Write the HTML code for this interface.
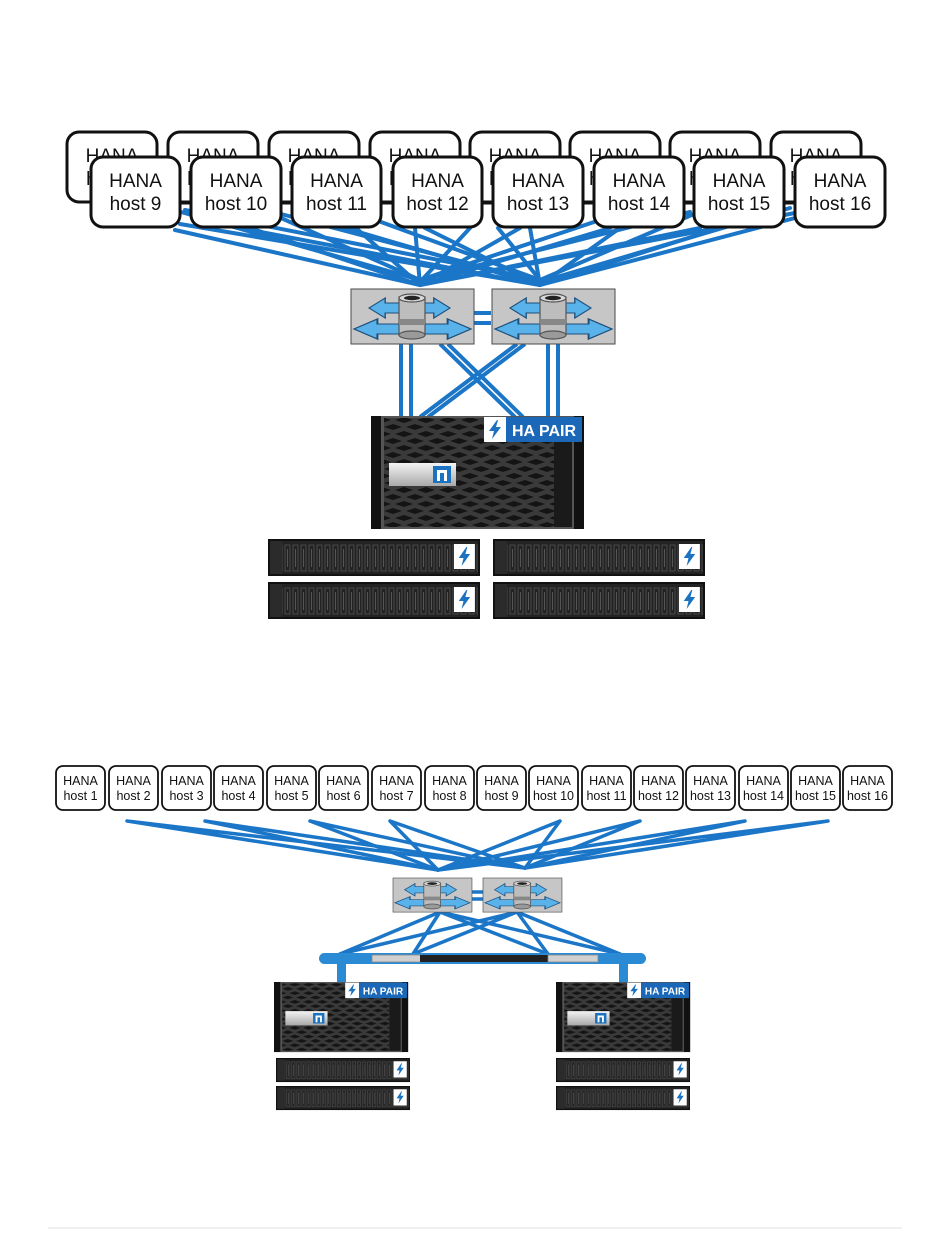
<!DOCTYPE html>
<html><head><meta charset="utf-8"><style>
html,body{margin:0;padding:0;background:#fff;}
svg{display:block;}
text{font-family:"Liberation Sans",Arial,sans-serif;}
</style></head><body>
<svg width="950" height="1248" viewBox="0 0 950 1248" xmlns="http://www.w3.org/2000/svg">
<defs>
 <pattern id="hex" x="0" y="0" width="22" height="14" patternUnits="userSpaceOnUse">
  <rect width="22" height="14" fill="#3a3a3a"/>
  <path d="M2 4 L11 1 L20 4 L11 7 Z" fill="#141414"/>
  <path d="M-9 11 L0 8 L9 11 L0 14 Z M13 11 L22 8 L31 11 L22 14 Z" fill="#141414"/>
 </pattern>
 <pattern id="drv" x="0" y="0" width="8" height="37" patternUnits="userSpaceOnUse">
  <rect width="8" height="37" fill="#232323"/>
  <rect x="1" y="6" width="5" height="26" fill="none" stroke="#4a4a4a" stroke-width="1"/>
  <line x1="3.5" y1="10" x2="3.5" y2="28" stroke="#555" stroke-width="1"/>
 </pattern>
 <linearGradient id="silver" x1="0" y1="0" x2="0" y2="1">
  <stop offset="0" stop-color="#f4f4f4"/><stop offset="1" stop-color="#a8a8a8"/>
 </linearGradient>
 <g id="dblarrow">
  <path d="M0 0 L12 -10 L12 -5 L48 -5 L48 -10 L60 0 L48 10 L48 5 L12 5 L12 10 Z" fill="#5ab2ea" stroke="#1d4f7a" stroke-width="1"/>
 </g>
 <g id="switch">
  <rect x="0" y="0" width="123" height="55" fill="#c6c6c6" stroke="#4a4a4a" stroke-width="1"/>
  <use href="#dblarrow" transform="translate(18,19) scale(1.35,1)"/>
  <use href="#dblarrow" transform="translate(3,40) scale(1.95,1)"/>
  <rect x="48" y="8" width="26" height="38" fill="#bdbdbd" stroke="#555" stroke-width="1.2"/>
  <rect x="48" y="30" width="26" height="6" fill="#888"/>
  <ellipse cx="61" cy="9" rx="13" ry="4" fill="#d8d8d8" stroke="#555" stroke-width="1.2"/>
  <ellipse cx="61" cy="9" rx="8" ry="2.2" fill="#222"/>
  <ellipse cx="61" cy="46" rx="13" ry="4" fill="#9a9a9a" stroke="#555" stroke-width="1.2"/>
 </g>
 <g id="bolt">
  <rect x="0" y="0" width="22" height="25" fill="#fff"/>
  <path d="M13 3 L5 14 L10 14 L8 22 L17 10 L12 10 L14 3 Z" fill="#1b72c0"/>
 </g>
 <g id="ctrl">
  <rect x="0" y="0" width="213" height="113" fill="#111"/>
  <rect x="10" y="0" width="193" height="113" fill="#555"/>
  <rect x="13" y="2" width="170" height="109" fill="url(#hex)"/>
  <rect x="183" y="2" width="18" height="109" fill="#1a1a1a"/>
  <rect x="18" y="47" width="67" height="23" fill="url(#silver)"/>
  <rect x="62" y="50" width="18" height="17" fill="#1b72c0"/>
  <path d="M66 65 L66 54 L76 54 L76 65 L73 65 L73 57 L69 57 L69 65 Z" fill="#fff"/>
  <use href="#bolt" transform="translate(113,1)"/>
  <rect x="135" y="1" width="76" height="25" fill="#1b68b8"/>
  <text x="173" y="20" text-anchor="middle" font-size="16" font-weight="bold" fill="#fff">HA PAIR</text>
 </g>
 <g id="shelf">
  <rect x="0" y="0" width="212" height="37" fill="#111"/>
  <rect x="2" y="2" width="208" height="33" fill="url(#drv)"/>
  <rect x="2" y="2" width="12" height="33" fill="#2b2b2b"/>
  <use href="#bolt" transform="translate(186,5) scale(0.95,1)"/>
 </g>
</defs>

<!-- ===== TOP DIAGRAM ===== -->
<g stroke="#1b76c8" stroke-width="4" fill="none" stroke-linecap="round">
 <path d="M175 230 L420 285 M180 224 L540 285 M181 212 L420 280 M185 210 L540 280"/>
 <path d="M250 228 L420 285 M240 228 L540 285 M281 218 L420 280 M281 214 L540 282"/>
 <path d="M356 228 L420 285 M345 228 L540 285 M381 222 L540 280"/>
 <path d="M415 228 L420 285 M425 228 L540 285 M470 228 L420 282"/>
 <path d="M520 228 L420 285 M530 228 L540 285 M498 228 L540 280"/>
 <path d="M620 228 L540 285 M610 228 L420 285 M594 222 L420 280"/>
 <path d="M720 228 L540 285 M700 228 L420 285 M694 214 L540 280 M690 212 L420 280"/>
 <path d="M795 218 L540 285 M800 212 L420 285 M790 208 L540 282"/>
</g>
<line x1="91" y1="203" x2="885" y2="203" stroke="#111" stroke-width="3"/>
<g font-size="19" fill="#111">
 <g stroke="#111" stroke-width="3" fill="#fff">
  <rect x="67" y="132" width="90" height="70" rx="12"/>
  <rect x="168" y="132" width="90" height="70" rx="12"/>
  <rect x="269" y="132" width="90" height="70" rx="12"/>
  <rect x="370" y="132" width="90" height="70" rx="12"/>
  <rect x="470" y="132" width="90" height="70" rx="12"/>
  <rect x="570" y="132" width="90" height="70" rx="12"/>
  <rect x="670" y="132" width="90" height="70" rx="12"/>
  <rect x="771" y="132" width="90" height="70" rx="12"/>
 </g>
 <text x="112" y="162" text-anchor="middle">HANA</text><text x="112" y="185" text-anchor="middle">host 1</text>
 <text x="213" y="162" text-anchor="middle">HANA</text><text x="213" y="185" text-anchor="middle">host 2</text>
 <text x="314" y="162" text-anchor="middle">HANA</text><text x="314" y="185" text-anchor="middle">host 3</text>
 <text x="415" y="162" text-anchor="middle">HANA</text><text x="415" y="185" text-anchor="middle">host 4</text>
 <text x="515" y="162" text-anchor="middle">HANA</text><text x="515" y="185" text-anchor="middle">host 5</text>
 <text x="615" y="162" text-anchor="middle">HANA</text><text x="615" y="185" text-anchor="middle">host 6</text>
 <text x="715" y="162" text-anchor="middle">HANA</text><text x="715" y="185" text-anchor="middle">host 7</text>
 <text x="816" y="162" text-anchor="middle">HANA</text><text x="816" y="185" text-anchor="middle">host 8</text>
 <g stroke="#111" stroke-width="3" fill="#fff">
  <rect x="91" y="157" width="89" height="70" rx="12"/>
  <rect x="191" y="157" width="90" height="70" rx="12"/>
  <rect x="292" y="157" width="89" height="70" rx="12"/>
  <rect x="393" y="157" width="89" height="70" rx="12"/>
  <rect x="493" y="157" width="90" height="70" rx="12"/>
  <rect x="594" y="157" width="90" height="70" rx="12"/>
  <rect x="694" y="157" width="90" height="70" rx="12"/>
  <rect x="795" y="157" width="90" height="70" rx="12"/>
 </g>
 <text x="135.5" y="187" text-anchor="middle">HANA</text><text x="135.5" y="210" text-anchor="middle">host 9</text>
 <text x="236" y="187" text-anchor="middle">HANA</text><text x="236" y="210" text-anchor="middle">host 10</text>
 <text x="336.5" y="187" text-anchor="middle">HANA</text><text x="336.5" y="210" text-anchor="middle">host 11</text>
 <text x="437.5" y="187" text-anchor="middle">HANA</text><text x="437.5" y="210" text-anchor="middle">host 12</text>
 <text x="538" y="187" text-anchor="middle">HANA</text><text x="538" y="210" text-anchor="middle">host 13</text>
 <text x="639" y="187" text-anchor="middle">HANA</text><text x="639" y="210" text-anchor="middle">host 14</text>
 <text x="739" y="187" text-anchor="middle">HANA</text><text x="739" y="210" text-anchor="middle">host 15</text>
 <text x="840" y="187" text-anchor="middle">HANA</text><text x="840" y="210" text-anchor="middle">host 16</text>
</g>

<!-- switch to controller links -->
<g stroke="#1b76c8" stroke-width="4" fill="none">
 <path d="M401 344 L401 417 M411 344 L411 417 M548 344 L548 417 M558 344 L558 417"/>
 <path d="M440 344 L515 417 M448 344 L523 417 M525 344 L428 417 M517 344 L420 417"/>
 <path d="M474 313 L491 313 M474 323 L491 323"/>
</g>
<use href="#switch" transform="translate(351,289)"/>
<use href="#switch" transform="translate(492,289)"/>
<use href="#ctrl" transform="translate(371,416)"/>
<use href="#shelf" transform="translate(268,539)"/>
<use href="#shelf" transform="translate(268,582)"/>
<use href="#shelf" transform="translate(493,539)"/>
<use href="#shelf" transform="translate(493,582)"/>

<!-- ===== BOTTOM DIAGRAM ===== -->
<g stroke="#1b76c8" stroke-width="3.5" fill="none" stroke-linecap="round">
 <path d="M127 821 L438 870 M127 821 L525 868"/>
 <path d="M205 821 L438 870 M205 821 L525 868"/>
 <path d="M310 821 L438 870 M310 821 L525 868"/>
 <path d="M390 821 L438 870 M390 821 L525 868"/>
 <path d="M560 821 L438 870 M560 821 L525 868"/>
 <path d="M640 821 L438 870 M640 821 L525 868"/>
 <path d="M745 821 L438 870 M745 821 L525 868"/>
 <path d="M828 821 L438 870 M828 821 L525 868"/>
 <path d="M440 912 L340 954 M440 912 L413 954 M440 912 L548 954 M440 912 L620 954"/>
 <path d="M517 912 L340 954 M517 912 L413 954 M517 912 L548 954 M517 912 L620 954"/>
 <path d="M472 892 L483 892 M472 899 L483 899"/>
</g>
<g font-size="12.5" fill="#111">
 <g stroke="#111" stroke-width="1.8" fill="#fff">
  <rect x="56" y="766" width="49" height="44" rx="7"/>
  <rect x="109" y="766" width="49" height="44" rx="7"/>
  <rect x="162" y="766" width="49" height="44" rx="7"/>
  <rect x="214" y="766" width="49" height="44" rx="7"/>
  <rect x="267" y="766" width="49" height="44" rx="7"/>
  <rect x="319" y="766" width="49" height="44" rx="7"/>
  <rect x="372" y="766" width="49" height="44" rx="7"/>
  <rect x="425" y="766" width="49" height="44" rx="7"/>
  <rect x="477" y="766" width="49" height="44" rx="7"/>
  <rect x="529" y="766" width="49" height="44" rx="7"/>
  <rect x="582" y="766" width="49" height="44" rx="7"/>
  <rect x="634" y="766" width="49" height="44" rx="7"/>
  <rect x="686" y="766" width="49" height="44" rx="7"/>
  <rect x="739" y="766" width="49" height="44" rx="7"/>
  <rect x="791" y="766" width="49" height="44" rx="7"/>
  <rect x="843" y="766" width="49" height="44" rx="7"/>
 </g>
 <g text-anchor="middle">
  <text x="80.5" y="785">HANA</text><text x="80.5" y="800">host 1</text>
  <text x="133.5" y="785">HANA</text><text x="133.5" y="800">host 2</text>
  <text x="186.5" y="785">HANA</text><text x="186.5" y="800">host 3</text>
  <text x="238.5" y="785">HANA</text><text x="238.5" y="800">host 4</text>
  <text x="291.5" y="785">HANA</text><text x="291.5" y="800">host 5</text>
  <text x="343.5" y="785">HANA</text><text x="343.5" y="800">host 6</text>
  <text x="396.5" y="785">HANA</text><text x="396.5" y="800">host 7</text>
  <text x="449.5" y="785">HANA</text><text x="449.5" y="800">host 8</text>
  <text x="501.5" y="785">HANA</text><text x="501.5" y="800">host 9</text>
  <text x="553.5" y="785">HANA</text><text x="553.5" y="800">host 10</text>
  <text x="606.5" y="785">HANA</text><text x="606.5" y="800">host 11</text>
  <text x="658.5" y="785">HANA</text><text x="658.5" y="800">host 12</text>
  <text x="710.5" y="785">HANA</text><text x="710.5" y="800">host 13</text>
  <text x="763.5" y="785">HANA</text><text x="763.5" y="800">host 14</text>
  <text x="815.5" y="785">HANA</text><text x="815.5" y="800">host 15</text>
  <text x="867.5" y="785">HANA</text><text x="867.5" y="800">host 16</text>
 </g>
</g>
<use href="#switch" transform="translate(393,878) scale(0.642,0.62)"/>
<use href="#switch" transform="translate(483,878) scale(0.642,0.62)"/>

<!-- bar -->
<rect x="337" y="962" width="9" height="21" fill="#2a8ad4"/>
<rect x="619" y="962" width="9" height="21" fill="#2a8ad4"/>
<rect x="319" y="953" width="327" height="11" rx="5.5" fill="#2a8ad4"/>
<rect x="372" y="955" width="50" height="7" fill="#d0d0d0" stroke="#888" stroke-width="0.8"/>
<rect x="420" y="955" width="130" height="7" fill="#222"/>
<rect x="548" y="955" width="50" height="7" fill="#d0d0d0" stroke="#888" stroke-width="0.8"/>

<use href="#ctrl" transform="translate(274,982) scale(0.63,0.62)"/>
<use href="#ctrl" transform="translate(556,982) scale(0.63,0.62)"/>
<use href="#shelf" transform="translate(276,1058) scale(0.632,0.65)"/>
<use href="#shelf" transform="translate(276,1086) scale(0.632,0.65)"/>
<use href="#shelf" transform="translate(556,1058) scale(0.632,0.65)"/>
<use href="#shelf" transform="translate(556,1086) scale(0.632,0.65)"/>

<line x1="48" y1="1228" x2="902" y2="1228" stroke="#e2e2e2" stroke-width="1"/>
</svg>
</body></html>
